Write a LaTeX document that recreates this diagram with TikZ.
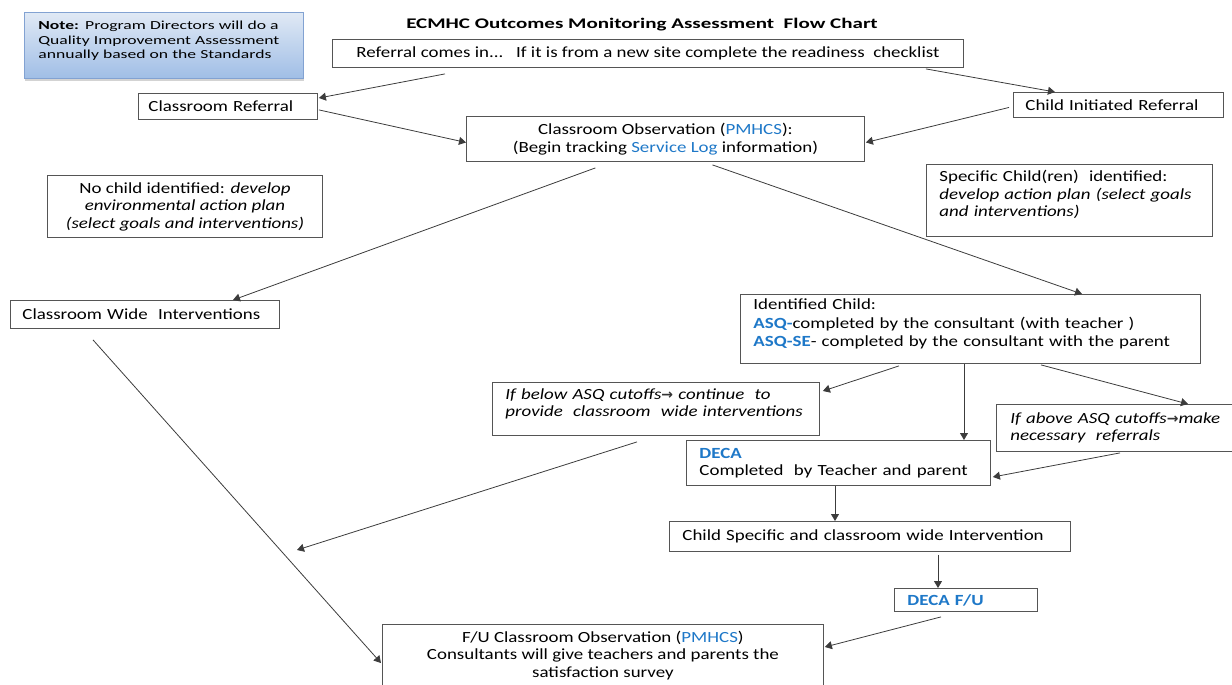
\documentclass[tikz,border=0pt]{standalone}
\usepackage{fontspec}
\setmainfont{Carlito}[FakeStretch=1.22]
\newfontfamily\widefont{Carlito}[FakeStretch=1.43]
\newfontfamily\arrowfont{DejaVu Sans}
\usetikzlibrary{arrows.meta,shadows}
\definecolor{blu}{RGB}{30,120,200}
\definecolor{boxline}{RGB}{85,85,85}
\definecolor{conn}{RGB}{60,60,60}
\definecolor{notetop}{RGB}{224,233,245}
\definecolor{notebot}{RGB}{160,190,230}
\definecolor{noteline}{RGB}{130,162,210}
\newcommand\myarrow{{\arrowfont\bfseries\fontsize{14}{14}\selectfont\color{black!80}→}}
\begin{document}
\begin{tikzpicture}[x=1pt,y=-1pt,
  box/.style={draw=boxline, line width=0.9pt, fill=white, inner ysep=1pt,
    font=\fontsize{15.5}{17.5}\selectfont},
  place/.style n args={2}{anchor=north west, minimum width=#1, minimum height=#2},
  lbox/.style n args={2}{align=left, inner xsep=#1, text width=#2},
  cbox/.style={align=center, inner xsep=4pt},
  arr/.style={draw=conn, line width=0.8pt, -{Triangle[length=7pt,width=8pt]}}]
\useasboundingbox (0,0) rectangle (1232,685);
\clip (0,0) rectangle (1232,685);

% note box
\node[place={279}{66}, lbox={14pt}{251pt}, draw=noteline, line width=0.8pt,
  top color=notetop, bottom color=notebot,
  drop shadow={shadow xshift=1pt, shadow yshift=-3pt, opacity=0.35},
  font=\widefont\fontsize{12.3}{14.5}\selectfont] (note) at (24,12)
  {\textbf{Note:} Program Directors will do a\\Quality Improvement Assessment\\annually based on the Standards\vspace*{9pt}};

% title
\node[font=\widefont\bfseries\fontsize{14.7}{16}\selectfont, inner sep=0pt] (title) at (642,25)
  {ECMHC Outcomes Monitoring Assessment\ \ Flow Chart};

\node[box, place={631}{28}, cbox] (ref) at (332,39)
  {Referral comes in...\ \ \ If it is from a new site complete the readiness\ \ checklist};
\node[box, place={179}{26}, lbox={10pt}{159pt}] (cref) at (138,93) {Classroom Referral};
\node[box, place={210}{25}, lbox={12pt}{186pt}] (cir) at (1013,92) {Child Initiated Referral};
\node[box, place={398}{45}, cbox] (cobs) at (466,116)
  {Classroom Observation (\textcolor{blu}{PMHCS}):\\(Begin tracking \textcolor{blu}{Service Log} information)};
\node[box, place={275}{62}, cbox] (nochild) at (47,175)
  {No child identified: \textit{develop}\\\textit{environmental action plan}\\\textit{(select goals and interventions)}};
\node[box, place={286}{72}, lbox={13pt}{260pt}] (spec) at (926,164)
  {Specific Child(ren)\ \ identified:\\\textit{develop action plan (select goals}\\\textit{and interventions)}\vspace*{12pt}};
\node[box, place={269}{28}, lbox={12pt}{245pt}] (cwi) at (10,300) {Classroom Wide\ \ Interventions};
\node[box, place={460}{69}, lbox={13pt}{434pt}, font=\fontsize{15.5}{18.5}\selectfont] (idc) at (740,294)
  {Identified Child:\\\textcolor{blu}{\textbf{ASQ-}}completed by the consultant (with teacher )\\\textcolor{blu}{\textbf{ASQ-SE}}- completed by the consultant with the parent\vspace*{10pt}};
\node[box, place={327}{53}, lbox={13pt}{301pt}] (below) at (492,382)
  {\textit{If below ASQ cutoffs}\myarrow\ \textit{continue\ \ to}\\\textit{provide\ \ classroom\ \ wide interventions}\vspace*{10pt}};
\node[box, place={240}{47}, lbox={14pt}{212pt}] (above) at (996,404)
  {\mbox{\textit{If above ASQ cutoffs}\myarrow\textit{make}}\\\textit{necessary\ \ referrals}};
\node[box, place={304}{45}, lbox={13pt}{278pt}] (deca) at (686,440)
  {\textcolor{blu}{\textbf{DECA}}\\Completed\ \ by Teacher and parent};
\node[box, place={401}{30}, lbox={13pt}{375pt}] (csi) at (669,521)
  {Child Specific and classroom wide Intervention};
\node[box, place={143}{23}, lbox={13pt}{117pt}] (decafu) at (894,588)
  {\textcolor{blu}{\textbf{DECA F/U}}};
\node[box, place={441}{80}, cbox] (fuobs) at (382,624)
  {F/U Classroom Observation (\textcolor{blu}{PMHCS})\\Consultants will give teachers and parents the\\satisfaction survey\vspace*{18pt}};

\coordinate (freeend) at (297,550);

% connectors
\draw[arr] ([xshift=113pt,yshift=-6pt]ref.south west) -- ([xshift=1pt,yshift=-5pt]cref.north east);
\draw[arr] ([xshift=-38pt,yshift=-1pt]ref.south east) -- ([xshift=42pt]cir.north west);
\draw[arr] ([xshift=1pt,yshift=10pt]cref.south east) -- ([yshift=-3.5pt]cobs.west);
\draw[arr] ([xshift=-4pt,yshift=-2.5pt]cir.west) -- ([xshift=1pt,yshift=-3.5pt]cobs.east);
\draw[arr] ([xshift=-70pt,yshift=-6pt]cobs.south) -- ([xshift=223pt]cwi.north west);
\draw[arr] ([xshift=47pt,yshift=-3pt]cobs.south) -- ([xshift=342pt]idc.north west);
\draw[arr] ([xshift=159pt,yshift=-2pt]idc.south west) -- ([xshift=3pt,yshift=-9pt]below.north east);
\draw[arr] ([xshift=224pt]idc.south west) -- ([xshift=278pt]deca.north west);
\draw[arr] ([xshift=301pt,yshift=-1pt]idc.south west) -- ([xshift=192pt]above.north west);
\draw[arr] ([xshift=124pt,yshift=-1pt]above.south west) -- ([xshift=2pt,yshift=-37pt]deca.north east);
\draw[arr] ([xshift=145pt,yshift=-6pt]below.south west) -- (freeend);
\draw[arr] ([xshift=83pt,yshift=-11pt]cwi.south west) -- ([xshift=-1pt,yshift=-39pt]fuobs.north west);
\draw[arr] ([xshift=149pt]deca.south west) -- ([xshift=166pt]csi.north west);
\draw[arr] ([xshift=269pt,yshift=-3pt]csi.south west) -- ([xshift=44pt]decafu.north west);
\draw[arr] ([xshift=47pt,yshift=-5pt]decafu.south west) -- ([xshift=1pt,yshift=-23pt]fuobs.north east);
\end{tikzpicture}
\end{document}
